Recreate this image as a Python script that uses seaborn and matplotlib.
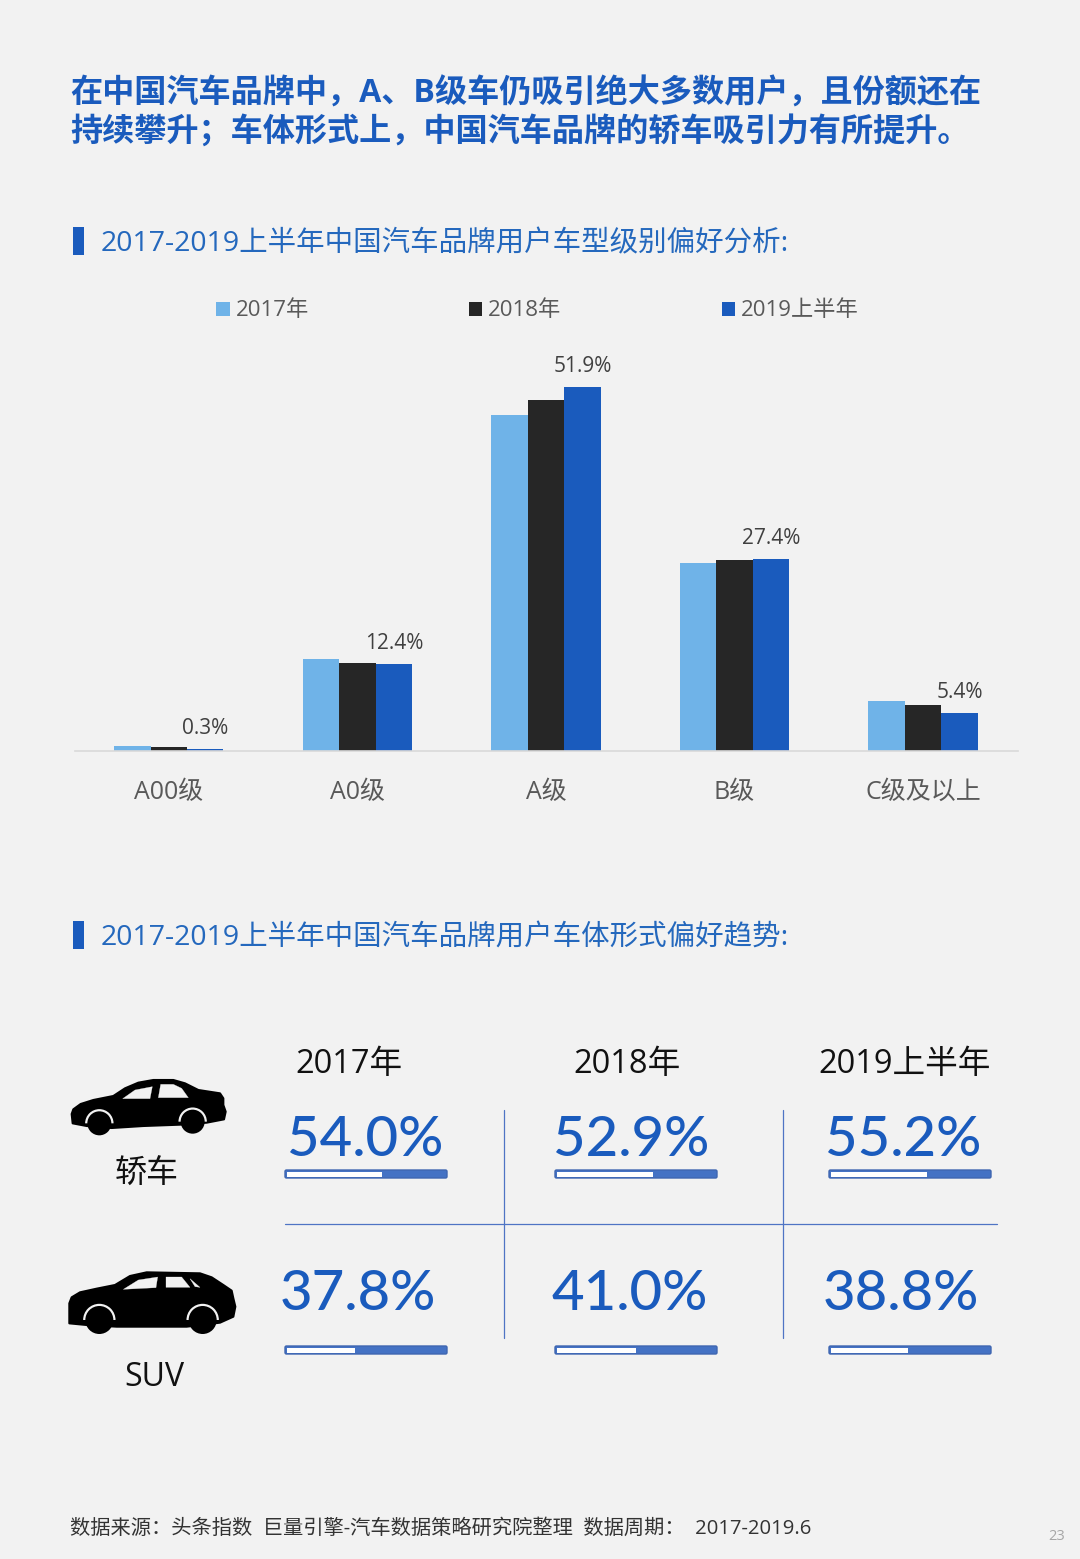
import matplotlib
matplotlib.use("Agg")
import matplotlib.pyplot as plt
import seaborn as sns
import pandas as pd
from matplotlib.patches import Polygon, Rectangle, Circle, FancyBboxPatch, Wedge

# ---------- data ----------
categories = ["A00级", "A0级", "A级", "B级", "C级及以上"]
years = ["2017年", "2018年", "2019上半年"]
vals_2017 = [0.7, 13.1, 47.9, 26.8, 7.1]
vals_2018 = [0.5, 12.5, 50.1, 27.2, 6.6]
vals_2019 = [0.3, 12.4, 51.9, 27.4, 5.4]
bar_colors = ["#6fb3e8", "#262626", "#1a5bbd"]

body_types = ["轿车", "SUV"]
sedan_share = ["54.0%", "52.9%", "55.2%"]
suv_share = ["37.8%", "41.0%", "38.8%"]
sedan_fill = [0.60, 0.607, 0.605]
suv_fill = [0.43, 0.50, 0.49]

title_lines = ["在中国汽车品牌中，A、B级车仍吸引绝大多数用户，且份额还在",
               "持续攀升；车体形式上，中国汽车品牌的轿车吸引力有所提升。"]
section_1 = "2017-2019上半年中国汽车品牌用户车型级别偏好分析:"
section_2 = "2017-2019上半年中国汽车品牌用户车体形式偏好趋势:"
source = "数据来源：头条指数  巨量引擎-汽车数据策略研究院整理  数据周期：  2017-2019.6"
page_no = "23"

# ---------- style ----------
BG = "#f2f2f2"
BLUE = "#1a5bbd"
LINE = "#4f74c4"
sns.set_theme(style="white")
FONT = ["Open Sans", "Noto Sans CJK SC", "DejaVu Sans"]
plt.rcParams["font.family"] = FONT
plt.rcParams["axes.unicode_minus"] = False

W, H = 1080, 1559
fig = plt.figure(figsize=(W / 100, H / 100), dpi=100, facecolor=BG)

# ---------- bar chart ----------
base_y, top_y = 751, 340
left_x, right_x = 75, 1018
ax = fig.add_axes([left_x / W, 1 - base_y / H, (right_x - left_x) / W, (base_y - top_y) / H])
ax.set_facecolor("none")
df = pd.DataFrame({"cat": categories * 3,
                   "year": [y for y in years for _ in categories],
                   "v": vals_2017 + vals_2018 + vals_2019})
sns.barplot(data=df, x="cat", y="v", hue="year", palette=bar_colors, width=0.58,
            saturation=1, gap=0, ax=ax, errorbar=None, linewidth=0)
ax.set_xlim(-0.497, 4.503)
ax.set_ylim(0, (base_y - top_y) / 7.01)
ax.set_xlabel("")
ax.set_ylabel("")
ax.set_yticks([])
sns.despine(ax=ax, left=True)
ax.spines["bottom"].set_color("#d9d9d9")
ax.spines["bottom"].set_linewidth(1.2)
ax.tick_params(axis="x", length=0, pad=21, labelsize=18, labelcolor="#595959")
for bar, v in zip(ax.containers[2], vals_2019):
    ax.annotate(f"{v:.1f}%", (bar.get_x() + bar.get_width() / 2, v), xytext=(0, 15),
                textcoords="offset points", ha="center", va="center",
                fontsize=15, color="#404040")
sns.move_legend(ax, loc="center left", bbox_to_anchor=((216.5 - left_x) / (right_x - left_x), (base_y - 311) / (base_y - top_y)),
                ncol=3, frameon=False, title=None, fontsize=16, handlelength=0.6, handleheight=0.6,
                handletextpad=0.25, columnspacing=7.22, borderpad=0, borderaxespad=0)
for t in ax.get_legend().get_texts():
    t.set_color("#595959")

# ---------- overlay in page pixels ----------
ov = fig.add_axes([0, 0, 1, 1], zorder=5)
ov.set_xlim(0, W)
ov.set_ylim(H, 0)
ov.axis("off")
ov.patch.set_alpha(0)

ov.text(70, 94.5, title_lines[0], fontsize=23.15, fontweight="bold", color=BLUE, va="center")
ov.text(70, 132.5, title_lines[1], fontsize=23.15, fontweight="bold", color=BLUE, va="center")

for y, s in [(241, section_1), (935, section_2)]:
    ov.add_patch(Rectangle((73, y - 14), 11, 28, color=BLUE, lw=0))
    ov.text(101, y + 3, s, fontsize=20.5, color="#2468bd", va="center")

year_centers = [349, 627, 905]
for x, y in zip(year_centers, years):
    ov.text(x, 1065, y, fontsize=23.5, color="#111111", ha="center", va="center")

ov.text(147, 1174, body_types[0], fontsize=23, color="#111111", ha="center", va="center")
ov.text(154, 1378, body_types[1], fontsize=23, color="#111111", ha="center", va="center")

num_x_sedan = [365, 631, 903]
num_x_suv = [358, 630, 901]
for x, s in zip(num_x_sedan, sedan_share):
    ov.text(x, 1140, s, fontsize=40.5, color=BLUE, ha="center", va="center", family="Lato", fontweight="medium")
for x, s in zip(num_x_suv, suv_share):
    ov.text(x, 1294, s, fontsize=40.5, color=BLUE, ha="center", va="center", family="Lato", fontweight="medium")

bar_lefts = [285, 555, 829]
bar_w = 162
def progress(x, y, frac):
    ov.add_patch(FancyBboxPatch((x, y), bar_w, 8, boxstyle="round,pad=0,rounding_size=1.5",
                                fc="#4472c4", ec="#3f66b0", lw=1))
    ov.add_patch(Rectangle((x + 1.5, y + 1.5), bar_w * frac - 1.5, 5, fc="white", lw=0))
for x, f in zip(bar_lefts, sedan_fill):
    progress(x, 1170, f)
for x, f in zip(bar_lefts, suv_fill):
    progress(x, 1346, f)

for x in (504, 783):
    ov.plot([x, x], [1110, 1338], color=LINE, lw=0.9)
ov.plot([285, 997], [1224, 1224], color=LINE, lw=0.9)

# ---------- car icons (traced outline, page pixels via the 3x crop) ----------
def z(pts):
    return [(60 + a / 3, 1040 + b / 3) for a, b in pts]

def car(body, windows, wheels, r):
    ov.add_patch(Polygon(z(body), closed=True, fc="black", ec="black", lw=1.5, joinstyle="round"))
    for w in windows:
        ov.add_patch(Polygon(z(w), closed=True, fc=BG, ec=BG, lw=0.2))
    for c in wheels:
        (cx, cy), = z([c])
        ov.add_patch(Wedge((cx, cy), r + 2.2, 180, 360, fc=BG, ec="none"))
        ov.add_patch(Circle((cx, cy), r, fc="black", ec="none"))

sedan_body = [(35, 222), (40, 208), (62, 192), (100, 180), (160, 168), (195, 145), (235, 128), (280, 120),
              (340, 120), (375, 130), (415, 150), (480, 160), (490, 175), (490, 195), (497, 215), (492, 238),
              (440, 248), (360, 254), (250, 258), (155, 264), (80, 258), (38, 250)]
sedan_windows = [[(188, 176), (225, 150), (277, 140), (270, 176)],
                 [(295, 173), (302, 133), (340, 133), (365, 145), (385, 173)]]
car(sedan_body, sedan_windows, [(118, 250), (398, 245)], 12)

suv_body = [(28, 790), (35, 772), (60, 757), (110, 746), (165, 735), (210, 708), (260, 697), (420, 700), (455, 712),
            (490, 735), (515, 752), (520, 775), (526, 800), (520, 830), (480, 848), (380, 860), (170, 860),
            (80, 855), (28, 850)]
suv_windows = [[(190, 748), (235, 720), (293, 711), (288, 743)],
               [(318, 711), (365, 711), (390, 742), (318, 742)],
               [(390, 716), (420, 742), (405, 740)]]
car(suv_body, suv_windows, [(118, 840), (428, 840)], 14)

ov.text(70, 1529, source, fontsize=14.6, color="#333333", va="center")
ov.text(1057, 1536, page_no, fontsize=10.5, color="#a6a6a6", ha="center", va="center")

fig.savefig("out.png", dpi=100, facecolor=BG)
